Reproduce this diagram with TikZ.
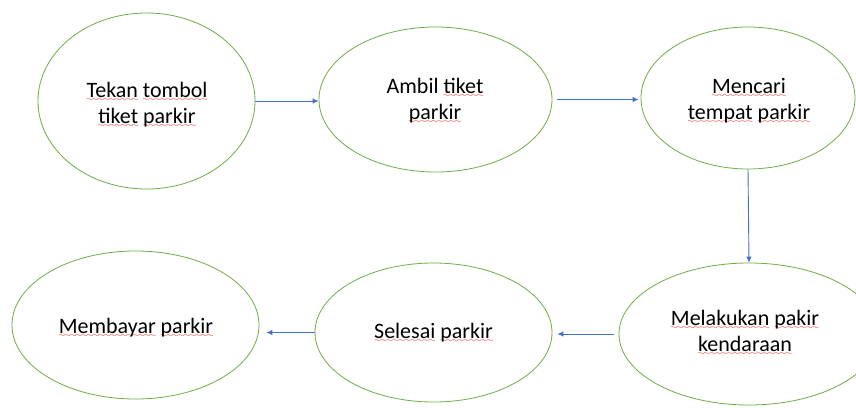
\documentclass[tikz,border=0pt]{standalone}
\usepackage{fontspec}
\setmainfont{Carlito}
\usetikzlibrary{shapes.geometric,arrows.meta}
\font\wavefont=lasy8\relax
\newcommand\sq[1]{\leavevmode\setbox0\hbox{#1}\rlap{\lower4pt\hbox to\wd0{\color{red!95!black}\xleaders\hbox{\wavefont\char58}\hfil}}\box0\relax}
\definecolor{egreen}{HTML}{70AD47}
\definecolor{ablue}{HTML}{4472C4}
\tikzset{
  proc/.style={ellipse, draw=egreen, line width=0.8pt, inner sep=0pt},
  lbl/.style={font=\fontsize{22}{26.5}\selectfont, align=center, inner sep=0pt, text=black},
  flow/.style={draw=ablue, line width=0.9pt, -{Latex[length=6pt,width=5.5pt]}}
}
\begin{document}
\begin{tikzpicture}[x=1pt,y=-1pt]
\fill[white] (0,0) rectangle (856,407);
\useasboundingbox (0,0) rectangle (856,407);
\node[proc, minimum width=217pt, minimum height=176pt] (e1) at (146.5,101) {};
\node[proc, minimum width=233pt, minimum height=145pt] (e2) at (435.5,99.5) {};
\node[proc, minimum width=214pt, minimum height=142pt] (e3) at (748,98) {};
\node[proc, minimum width=260pt, minimum height=142pt] (e4) at (749,334) {};
\node[proc, minimum width=237pt, minimum height=139pt] (e5) at (433.5,332.5) {};
\node[proc, minimum width=247pt, minimum height=148pt] (e6) at (135.5,325) {};
\node[lbl] (t1) at (147,105) {\sq{Tekan} \sq{tombol}\\\sq{tiket} \sq{parkir}};
\node[lbl] (t2) at (435,101) {Ambil \sq{tiket}\\\sq{parkir}};
\node[lbl] (t3) at (749,101) {\sq{Mencari}\\\sq{tempat} \sq{parkir}};
\node[lbl] (t4) at (745,333) {\sq{Melakukan} \sq{pakir}\\\sq{kendaraan}};
\node[lbl] (t5) at (433.5,332.5) {\sq{Selesai} \sq{parkir}};
\node[lbl] (t6) at (136,327.5) {\sq{Membayar} \sq{parkir}};
\draw[flow] (e1.east) -- (e1.east -| e2.west);
\draw[flow, shorten <=5pt, shorten >=2pt] (e2.east) -- (e2.east -| e3.west);
\draw[flow] (e3.south) -- (e4.north);
\draw[flow, shorten <=5pt, shorten >=5pt] (e4.west) -- (e4.west -| e5.east);
\draw[flow, shorten >=7pt] (e5.west) -- (e5.west -| e6.east);
\end{tikzpicture}
\end{document}
